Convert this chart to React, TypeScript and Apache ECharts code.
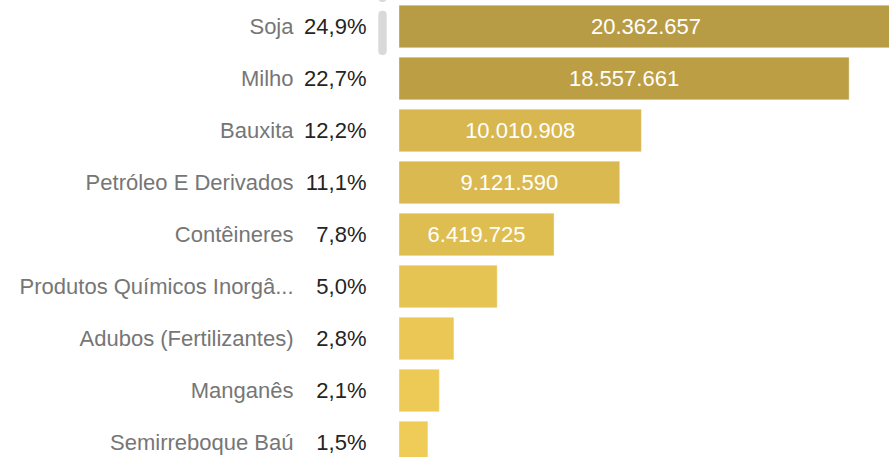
import React, { useEffect, useRef } from "react";
import * as echarts from "echarts";

const categories = [
  "Soja",
  "Milho",
  "Bauxita",
  "Petróleo E Derivados",
  "Contêineres",
  "Produtos Químicos Inorgânicos",
  "Adubos (Fertilizantes)",
  "Manganês",
  "Semirreboque Baú",
];
const values = [20362657, 18557661, 10010908, 9121590, 6419725, 4080000, 2300000, 1700000, 1230000];
const shares = [24.9, 22.7, 12.2, 11.1, 7.8, 5.0, 2.8, 2.1, 1.5];
const barColors = ["#B89C45", "#BC9E45", "#D8B750", "#DAB950", "#DFBE51", "#E5C454", "#EBC855", "#EDCA56", "#EFCC58"];
const labelVisible = [true, true, true, true, true, false, false, false, false];

const FONT = "'Liberation Sans', Arial, sans-serif";
const fmtNum = (v: number) => v.toString().replace(/\B(?=(\d{3})+(?!\d))/g, ".");
const fmtPct = (p: number) => p.toFixed(1).replace(".", ",") + "%";

export default function App() {
  const ref = useRef<HTMLDivElement>(null);
  useEffect(() => {
    if (!ref.current) return;
    const chart = echarts.init(ref.current, undefined, { renderer: "svg" });
    chart.setOption({
      animation: false,
      grid: { left: 398.5, top: 0.5, width: 495, height: 468, containLabel: false, outerBoundsMode: "none" },
      xAxis: {
        type: "value",
        min: 0,
        max: values[0],
        show: false,
      },
      yAxis: {
        type: "category",
        inverse: true,
        data: categories,
        axisLine: { show: false },
        axisTick: { show: false },
        axisLabel: {
          margin: 32,
          fontFamily: FONT,
          formatter: (name: string, idx: number) => {
            const n = name.length > 26 ? name.slice(0, 24) + "..." : name;
            return `{n|${n}}{p|${fmtPct(shares[idx])}}`;
          },
          rich: {
            n: { fontSize: 22, color: "#767676", fontFamily: FONT },
            p: { fontSize: 22, color: "#252423", fontFamily: FONT, width: 73, align: "right" },
          },
        },
      },
      series: [
        {
          type: "bar",
          barCategoryGap: "16%",
          data: values.map((v, i) => ({
            value: v,
            itemStyle: { color: barColors[i], borderColor: "rgba(255,255,255,0.35)", borderWidth: 1 },
            label: { show: labelVisible[i] },
          })),
          label: {
            position: "inside",
            color: "#ffffff",
            fontSize: 22,
            fontFamily: FONT,
            formatter: (p: any) => fmtNum(p.value),
          },
        },
      ],
      graphic: [
        { type: "rect", shape: { x: 378.3, y: -6, width: 8.4, height: 8, r: 4 }, style: { fill: "#d9d9d9" } },
        { type: "rect", shape: { x: 378.3, y: 10.7, width: 8.4, height: 44.3, r: 4 }, style: { fill: "#d9d9d9" } },
      ],
    });
    return () => chart.dispose();
  }, []);
  return (
    <div
      ref={ref}
      style={{ position: "fixed", left: 0, top: 0, width: 889, height: 470, background: "#fff" }}
    />
  );
}
